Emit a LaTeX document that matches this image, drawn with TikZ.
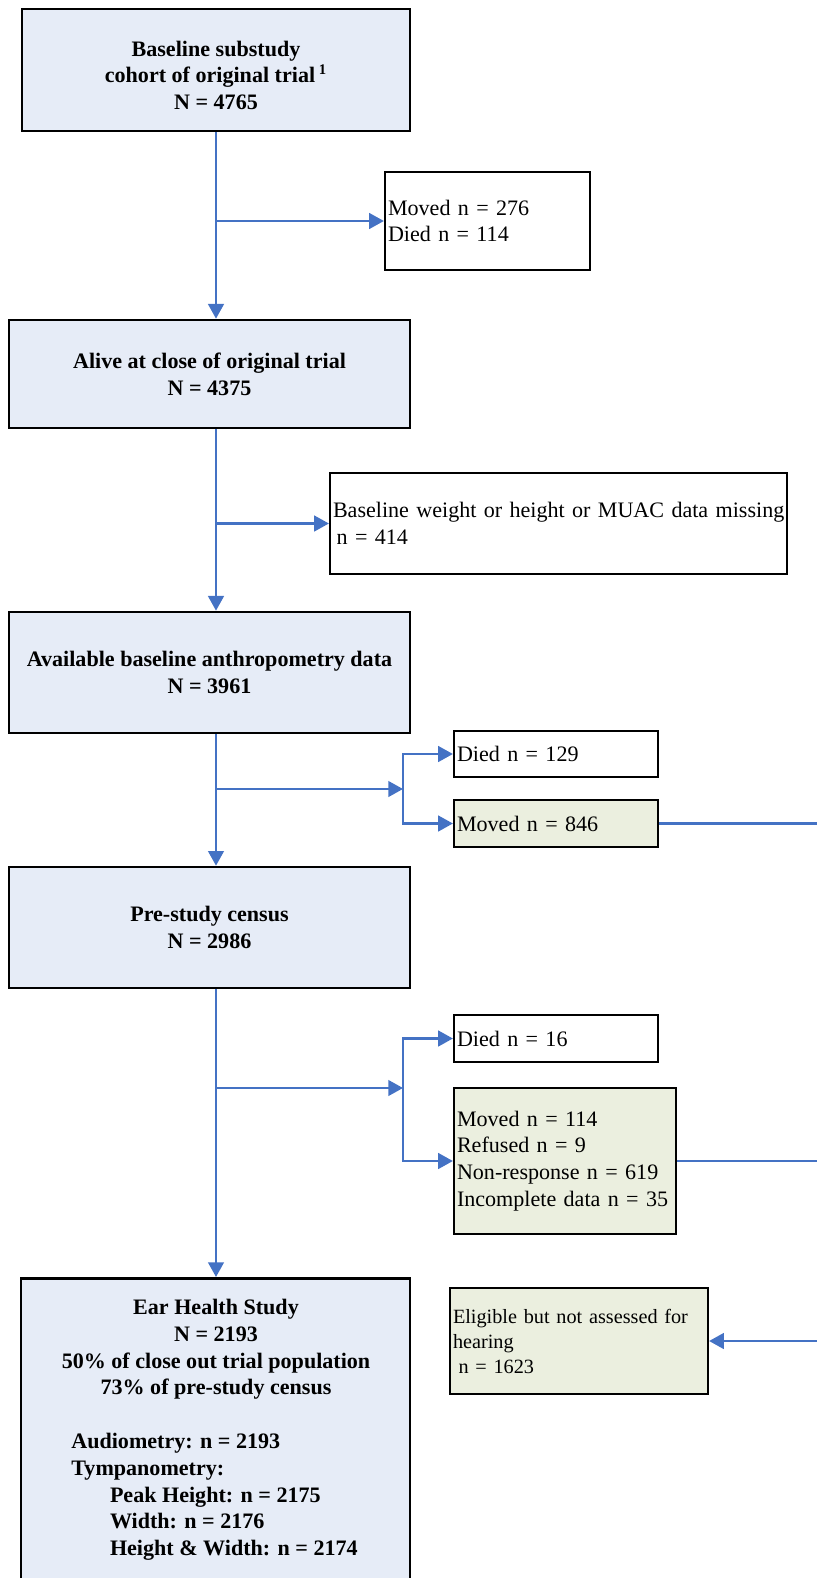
\documentclass[tikz,border=0pt]{standalone}
\usepackage{fontspec}
\setmainfont{Liberation Serif}
\usepackage{tikz}
\usetikzlibrary{calc,positioning,arrows.meta}

\definecolor{boxblue}{RGB}{230,236,247}
\definecolor{boxgreen}{RGB}{235,239,223}
\definecolor{flowblue}{RGB}{68,114,196}

\newcommand{\pxu}{0.5435pt}
\newcommand{\boxfont}{\fontsize{12}{14.5}\selectfont}

\tikzset{
	mainbox/.style={draw, line width=1.4pt, fill=boxblue, font=\boxfont\bfseries, align=center, minimum width=401*\pxu},
	sidebox/.style={draw, line width=1.2pt, fill=white, font=\boxfont, align=left, inner xsep=3*\pxu, inner ysep=0pt},
	greenbox/.style={sidebox, fill=boxgreen},
	flow/.style={draw=flowblue, line width=1.3pt, -{Triangle[length=8pt,width=8.5pt]}},
	link/.style={draw=flowblue, line width=1.3pt}
}

\begin{document}
\begin{tikzpicture}[x=\pxu, y=-\pxu]
	\useasboundingbox (0,0) rectangle (817,1578);
	\clip (0,0) rectangle (817,1578);

	% main column
	\node[mainbox, minimum width=388*\pxu, minimum height=122*\pxu] (base) at (216,70) {\rule{0pt}{14pt}Baseline substudy\\cohort of original trial\,\textsuperscript{1}\\N = 4765};
	\node[mainbox, minimum height=108*\pxu] (alive) at (209.5,374) {Alive at close of original trial\\N = 4375};
	\node[mainbox, minimum height=121*\pxu] (anthro) at (209.5,672.5) {Available baseline anthropometry data\\N = 3961};
	\node[mainbox, minimum height=121*\pxu] (census) at (209.5,927.5) {Pre-study census\\N = 2986};
	\node[mainbox, minimum width=389*\pxu, minimum height=330*\pxu, anchor=north] (ear) at (215.5,1277) {};
	\node[font=\boxfont\bfseries, align=center, inner sep=0pt, anchor=north] (eartitle) at (216,1299) {Ear Health Study\\N = 2193\\50\% of close out trial population\\73\% of pre-study census};
	\node[font=\boxfont\bfseries, align=left, inner sep=0pt, anchor=north west] (earlist) at (71,1433) {Audiometry: n = 2193\\Tympanometry:\\\hspace*{21pt}Peak Height: n = 2175\\\hspace*{21pt}Width: n = 2176\\\hspace*{21pt}Height \& Width: n = 2174};

	% exclusions
	\node[sidebox, text width=199*\pxu, minimum height=98*\pxu] (exc1) at (487.5,221) {Moved n = 276\\Died n = 114};
	\node[sidebox, text width=451*\pxu, minimum height=101*\pxu] (exc2) at (558.5,523.5) {\mbox{Baseline weight or height or MUAC data missing}\\\hspace*{2pt}n = 414};
	\node[sidebox, text width=198*\pxu, minimum height=46*\pxu] (died1) at (556,754) {Died n = 129};
	\node[greenbox, text width=198*\pxu, minimum height=47*\pxu] (moved1) at (556,823.5) {Moved n = 846};
	\node[sidebox, text width=198*\pxu, minimum height=47*\pxu] (died2) at (556,1038.5) {Died n = 16};
	\node[greenbox, text width=216*\pxu, minimum height=146*\pxu] (lost) at (565,1161) {Moved n = 114\\Refused n = 9\\Non-response n = 619\\Incomplete data n = 35};
	\node[greenbox, text width=252*\pxu, minimum height=106*\pxu, font=\fontsize{11}{13.6}\selectfont] (elig) at (579,1341) {Eligible but not assessed for\\hearing\\\hspace*{3pt}n = 1623};

	\coordinate (trunk) at (216,0);
	\coordinate (edge) at (820,0);
	\coordinate (fork1) at (403,789);
	\coordinate (fork2) at (403,1088);

	% connectors
	\draw[flow] (base.south) -- (alive.north -| trunk);
	\draw[flow] (exc1.west -| trunk) -- (exc1.west);
	\draw[flow] (alive.south -| trunk) -- (anthro.north -| trunk);
	\draw[flow] (exc2.west -| trunk) -- (exc2.west);
	\draw[flow] (anthro.south -| trunk) -- (census.north -| trunk);
	\draw[flow] (fork1 -| trunk) -- (fork1);
	\draw[flow] (fork1) |- (died1.west);
	\draw[flow] (fork1) |- (moved1.west);
	\draw[flow] (census.south -| trunk) -- (ear.north -| trunk);
	\draw[flow] (fork2 -| trunk) -- (fork2);
	\draw[flow] (fork2) |- (died2.west);
	\draw[flow] (fork2) |- (lost.west);
	\draw[link] (moved1.east) -- (moved1.east -| edge);
	\draw[link] (lost.east) -- (lost.east -| edge);
	\draw[flow] (elig.east -| edge) -- (elig.east);
\end{tikzpicture}
\end{document}
